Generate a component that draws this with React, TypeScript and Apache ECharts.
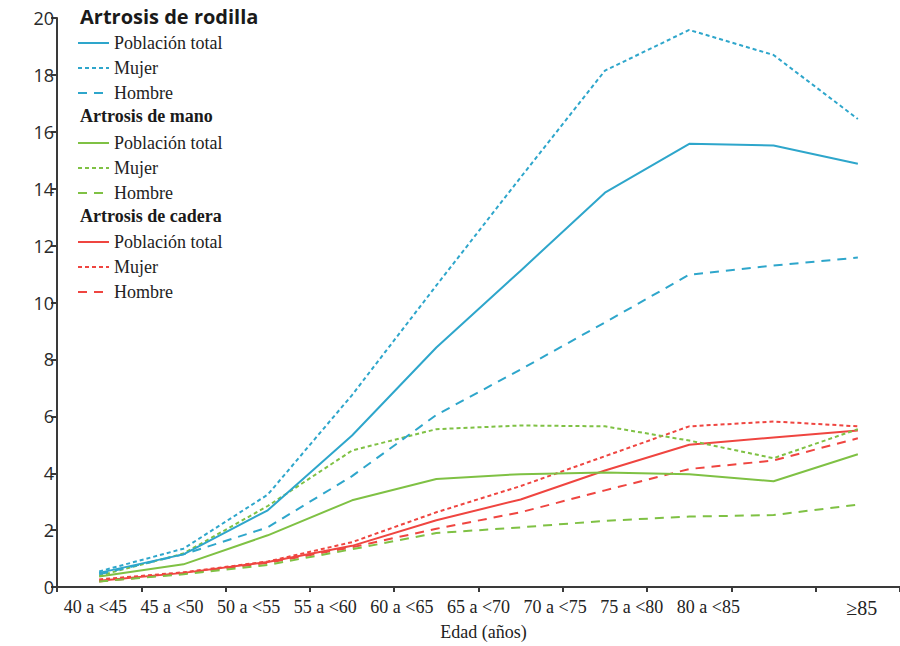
import React, { useEffect, useRef } from "react";
import * as echarts from "echarts";

const categories = ["40-45", "45-50", "50-55", "55-60", "60-65", "65-70", "70-75", "75-80", "80-85", "85+"];
const tickLabels = ["40 a <45", "45 a <50", "50 a <55", "55 a <60", "60 a <65", "65 a <70", "70 a <75", "75 a <80", "80 a <85", "", "≥85"];

const rodillaTotal = [0.5, 1.15, 2.7, 5.33, 8.42, 11.12, 13.86, 15.58, 15.52, 14.88];
const rodillaMujer = [0.55, 1.35, 3.25, 6.75, 10.6, 14.4, 18.15, 19.58, 18.7, 16.45];
const rodillaHombre = [0.45, 1.15, 2.1, 3.9, 6.05, 7.65, 9.3, 10.98, 11.3, 11.58];

const manoTotal = [0.37, 0.8, 1.82, 3.05, 3.8, 3.97, 4.03, 3.97, 3.72, 4.67];
const manoMujer = [0.4, 1.18, 2.85, 4.8, 5.55, 5.68, 5.65, 5.15, 4.53, 5.55];
const manoHombre = [0.2, 0.45, 0.78, 1.33, 1.9, 2.1, 2.33, 2.48, 2.53, 2.9];

const caderaTotal = [0.22, 0.5, 0.88, 1.45, 2.35, 3.08, 4.1, 5.0, 5.26, 5.5];
const caderaMujer = [0.27, 0.52, 0.9, 1.58, 2.63, 3.55, 4.6, 5.65, 5.82, 5.65];
const caderaHombre = [0.2, 0.48, 0.85, 1.4, 2.05, 2.63, 3.4, 4.15, 4.45, 5.23];

const groupTitles = ["Artrosis de rodilla", "Artrosis de mano", "Artrosis de cadera"];
const itemLabels = ["Población total", "Mujer", "Hombre"];

const BLUE = "#2ea6cb";
const GREEN = "#7fc144";
const RED = "#ef4540";
const SOLID = "solid";
const DOTTED = [4, 3];
const DASHED = [9, 7];

const SERIF = '"Liberation Serif", "Times New Roman", serif';

export default function App() {
  const ref = useRef<HTMLDivElement>(null);
  useEffect(() => {
    if (!ref.current) return;
    const chart = echarts.init(ref.current, null, { renderer: "svg" });
    const groups = [
      { key: "rodilla", color: BLUE, data: [rodillaTotal, rodillaMujer, rodillaHombre] },
      { key: "mano", color: GREEN, data: [manoTotal, manoMujer, manoHombre] },
      { key: "cadera", color: RED, data: [caderaTotal, caderaMujer, caderaHombre] },
    ];
    const styles = [SOLID, DOTTED, DASHED];
    const series: any[] = [];
    const legends: any[] = [];
    const legendTops = [34, 134, 233];
    groups.forEach((g, gi) => {
      const names: string[] = [];
      g.data.forEach((d, i) => {
        const name = g.key + "|" + itemLabels[i];
        names.push(name);
        series.push({
          type: "line",
          name,
          data: d,
          xAxisIndex: 0,
          symbol: "none",
          lineStyle: { color: g.color, width: 2, type: styles[i] },
          itemStyle: { color: g.color },
          z: 10 - gi,
        });
      });
      legends.push({
        orient: "vertical",
        left: 77,
        top: legendTops[gi],
        padding: 0,
        itemWidth: 31,
        itemHeight: 14,
        itemGap: 7,
        selectedMode: false,
        data: names,
        formatter: (n: string) => n.split("|")[1],
        itemStyle: { opacity: 0 },
        textStyle: { fontFamily: SERIF, fontSize: 18, lineHeight: 18, color: "#222" },
      });
    });

    const option: any = {
      animation: false,
      backgroundColor: "#fff",
      grid: { left: 57, right: -2, top: 18, bottom: 55, containLabel: false },
      xAxis: [
        {
          type: "category",
          data: categories,
          boundaryGap: true,
          axisLine: { lineStyle: { color: "#3a3a3a", width: 2 } },
          axisTick: { show: true, length: 5, lineStyle: { color: "#3a3a3a", width: 2 } },
          axisLabel: { show: false },
          splitLine: { show: false },
        },
        {
          type: "category",
          data: tickLabels,
          position: "bottom",
          boundaryGap: true,
          axisLine: { show: false },
          axisTick: { show: false },
          splitLine: { show: false },
          axisLabel: {
            interval: 0,
            margin: 11,
            fontFamily: SERIF,
            fontSize: 18,
            color: "#222",
            formatter: (v: string) => (v === "≥85" ? "{big|" + v + "}" : v),
            rich: { big: { fontFamily: SERIF, fontSize: 20, color: "#222" } },
          },
          name: "Edad (años)",
          nameLocation: "middle",
          nameGap: 35,
          nameTextStyle: { fontFamily: SERIF, fontSize: 18, color: "#222", padding: [0, 0, 0, 10] },
        },
      ],
      yAxis: {
        type: "value",
        min: 0,
        max: 20,
        interval: 2,
        axisLine: { show: true, lineStyle: { color: "#3a3a3a", width: 2 } },
        axisTick: { show: true, length: 6, lineStyle: { color: "#3a3a3a", width: 2 } },
        axisLabel: { margin: 3, fontFamily: '"Open Sans", sans-serif', fontSize: 18, color: "#2a2a2a" },
        splitLine: { show: false },
      },
      legend: legends,
      graphic: [
        { type: "text", left: 80, top: 6, style: { text: groupTitles[0], fontFamily: '"Open Sans", sans-serif', fontWeight: "bold", fontSize: 20, fill: "#1a1a1a" } },
        { type: "text", left: 80, top: 107, style: { text: groupTitles[1], fontFamily: SERIF, fontWeight: "bold", fontSize: 18, fill: "#1a1a1a" } },
        { type: "text", left: 80, top: 207, style: { text: groupTitles[2], fontFamily: SERIF, fontWeight: "bold", fontSize: 18, fill: "#1a1a1a" } },
      ],
      series,
    };
    chart.setOption(option);
    return () => chart.dispose();
  }, []);
  return <div ref={ref} style={{ position: "fixed", left: 0, top: 0, width: 900, height: 646 }} />;
}
